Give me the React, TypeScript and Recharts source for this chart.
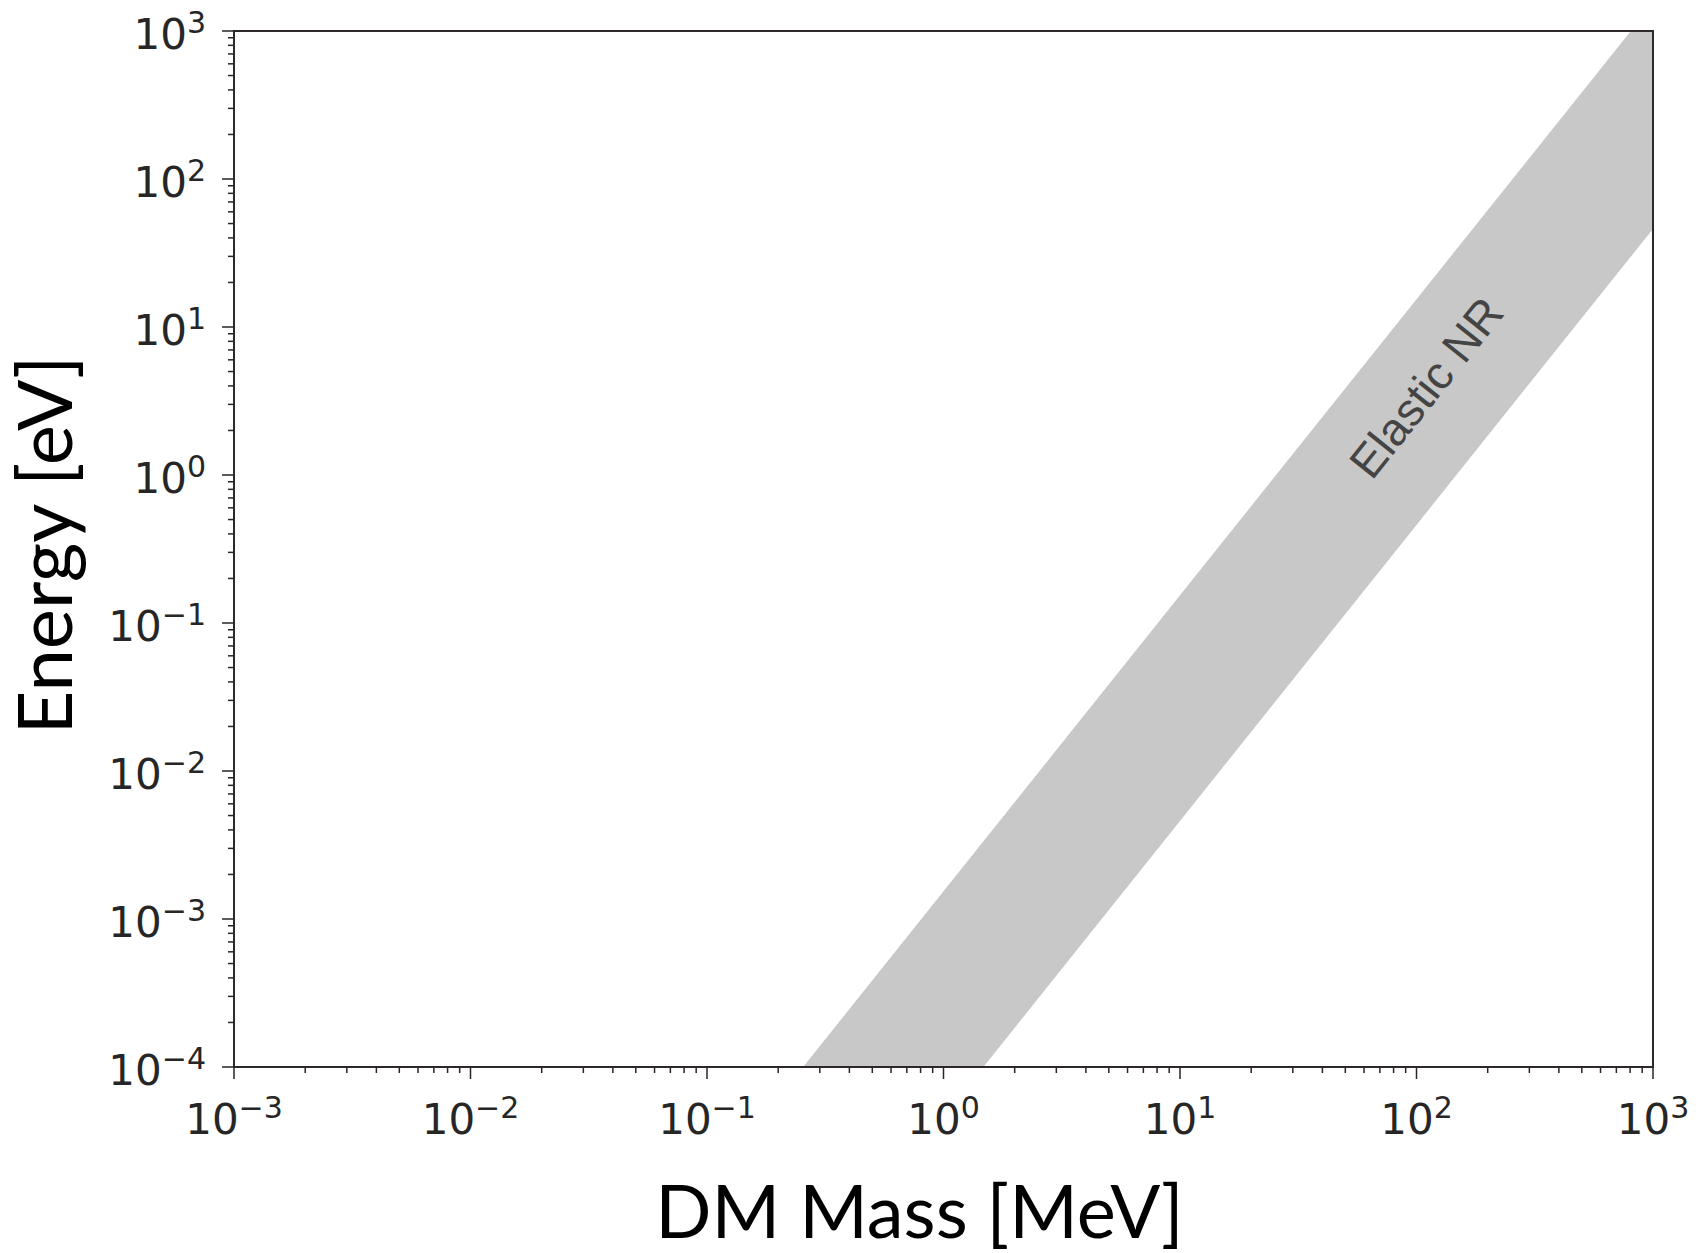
import React from "react";
import {
  ComposedChart,
  Area,
  XAxis,
  YAxis,
  ReferenceArea,
  ReferenceDot,
  Label,
} from "recharts";

// Elastic nuclear-recoil band: DM mass [MeV] vs recoil energy [eV]
const massMeV = [0.1, 1, 10, 100, 1000];
const upperEnergyEV = [1.54e-5, 1.54e-3, 0.154, 15.4, 1540];
const lowerEnergyEV = [4.6e-7, 4.6e-5, 4.6e-3, 0.46, 46];

const xMajorTicks = [1e-3, 1e-2, 1e-1, 1, 10, 100, 1000];
const yMajorTicks = [1e-4, 1e-3, 1e-2, 1e-1, 1, 10, 100, 1000];

const bandLabel = "Elastic NR";
const bandLabelAt = { mass: 110, energy: 3.9 };

const withMinor = (majors: number[]) => {
  const out: number[] = [];
  majors.forEach((m, i) => {
    out.push(m);
    if (i < majors.length - 1) {
      for (let k = 2; k <= 9; k++) out.push(m * k);
    }
  });
  return out;
};

const data = massMeV.map((m, i) => ({
  mass: m,
  band: [lowerEnergyEV[i], upperEnergyEV[i]],
}));

const INK = "#262626";
const TICK_FONT = "'DejaVu Sans', sans-serif";
const TITLE_FONT = "Lato, 'Open Sans', sans-serif";

const isMajor = (v: number) => {
  const e = Math.round(Math.log10(v));
  return Math.abs(v - Math.pow(10, e)) < 1e-6 * Math.pow(10, e);
};

const expText = (v: number) => {
  const e = Math.round(Math.log10(v));
  return e < 0 ? `\u2212${-e}` : `${e}`;
};

const XTick = (props: any) => {
  const { x, y, payload } = props;
  const v = payload.value;
  const major = isMajor(v);
  return (
    <g>
      <line x1={x} x2={x} y1={y} y2={y + (major ? 12 : 6)} stroke={INK} strokeWidth={1.5} />
      {major && (
        <text x={x} y={y + 67} textAnchor="middle" fontFamily={TICK_FONT} fontSize={42} fill={INK}>
          10
          <tspan dy={-16} fontSize={30}>
            {expText(v)}
          </tspan>
        </text>
      )}
    </g>
  );
};

const YTick = (props: any) => {
  const { x, y, payload } = props;
  const v = payload.value;
  const major = isMajor(v);
  return (
    <g>
      <line x1={x - (major ? 12 : 6)} x2={x} y1={y} y2={y} stroke={INK} strokeWidth={1.5} />
      {major && (
        <text x={x - 28} y={y + 18} textAnchor="end" fontFamily={TICK_FONT} fontSize={42} fill={INK}>
          10
          <tspan dy={-16} fontSize={30}>
            {expText(v)}
          </tspan>
        </text>
      )}
    </g>
  );
};

const XTitle = (props: any) => {
  const vb = props.viewBox;
  return (
    <text
      x={vb.x + vb.width / 2 - 24}
      y={vb.y + 171}
      textAnchor="middle"
      fontFamily={TITLE_FONT}
      fontSize={74}
      fill="#000"
    >
      DM Mass [MeV]
    </text>
  );
};

const YTitle = () => (
  <text
    x={64}
    y={537}
    transform="rotate(-90 64 537)"
    textAnchor="middle"
    fontFamily={TITLE_FONT}
    fontSize={76}
    fill="#000"
  >
    Energy [eV]
  </text>
);

const BandText = (props: any) => {
  const vb = props.viewBox;
  const cx = vb.x + (vb.width || 0) / 2;
  const cy = vb.y + (vb.height || 0) / 2;
  return (
    <text
      x={cx}
      y={cy}
      transform={`rotate(-51.4 ${cx} ${cy})`}
      textAnchor="middle"
      dominantBaseline="central"
      fontFamily="'Liberation Sans', Arial, sans-serif"
      fontSize={46}
      fill="#444"
    >
      {bandLabel}
    </text>
  );
};

export default function App() {
  return (
    <ComposedChart
      width={1690}
      height={1245}
      data={data}
      margin={{ top: 23, right: 45, bottom: 0, left: 0 }}
      style={{ background: "#fff" }}
    >
      <XAxis
        dataKey="mass"
        type="number"
        scale="log"
        domain={[1e-3, 1e3]}
        allowDataOverflow
        ticks={withMinor(xMajorTicks)}
        interval={0}
        tickSize={0}
        tickMargin={0}
        tickLine={false}
        axisLine={false}
        tick={<XTick />}
        height={186}
      >
        <Label content={<XTitle />} />
      </XAxis>
      <YAxis
        type="number"
        scale="log"
        domain={[1e-4, 1e3]}
        allowDataOverflow
        ticks={withMinor(yMajorTicks)}
        interval={0}
        tickSize={0}
        tickMargin={0}
        tickLine={false}
        axisLine={false}
        tick={<YTick />}
        width={226}
      >
        <Label content={<YTitle />} />
      </YAxis>
      <Area
        type="linear"
        dataKey="band"
        stroke="none"
        fill="#c8c8c8"
        fillOpacity={1}
        isAnimationActive={false}
      />
      <ReferenceArea
        x1={1e-3}
        x2={1e3}
        y1={1e-4}
        y2={1e3}
        fill="none"
        stroke="#2e2828"
        strokeWidth={2}
        strokeOpacity={1}
      />
      <ReferenceDot
        x={bandLabelAt.mass}
        y={bandLabelAt.energy}
        r={0}
        stroke="none"
        fill="none"
        label={<BandText />}
      />
    </ComposedChart>
  );
}
